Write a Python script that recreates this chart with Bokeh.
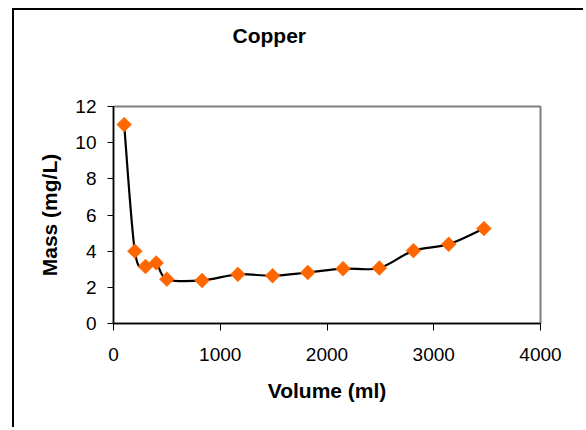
import math
from bokeh.plotting import figure
from bokeh.models import Range1d, FixedTicker, Title
from bokeh.embed import file_html
from bokeh.resources import INLINE

title_text = "Copper"
x_label = "Volume (ml)"
y_label = "Mass (mg/L)"
volume = [100, 200, 300, 400, 500, 830, 1165, 1490, 1820, 2150, 2490, 2810, 3140, 3470]
mass = [11.0, 4.0, 3.15, 3.35, 2.45, 2.38, 2.72, 2.64, 2.82, 3.03, 3.07, 4.03, 4.38, 5.25]
x_ticks = [0, 1000, 2000, 3000, 4000]
y_ticks = [0, 2, 4, 6, 8, 10, 12]

FONT = "Liberation Sans"
W, H = 571, 419

p = figure(width=W, height=H, output_backend="svg", toolbar_location=None,
           x_range=Range1d(0, 4000), y_range=Range1d(0, 12),
           min_border_left=99, min_border_right=W - 99 - 427,
           min_border_top=96, min_border_bottom=H - 96 - 217)
p.margin = (8, 0, 0, 12)
p.styles = {"border-left": "2px solid black", "border-top": "2px solid black"}

p.background_fill_color = "white"
p.border_fill_color = "white"
p.outline_line_color = "#808080"
p.outline_line_width = 2
p.xgrid.visible = False
p.ygrid.visible = False

for ax in (p.xaxis[0], p.yaxis[0]):
    ax.axis_line_color = "black"
    ax.axis_line_width = 1.5
    ax.major_tick_line_color = "black"
    ax.major_tick_in = 0
    ax.minor_tick_line_color = None
    ax.major_label_text_font = FONT
    ax.major_label_text_font_size = "19px"
    ax.major_label_text_color = "black"
    ax.axis_label_text_font = FONT
    ax.axis_label_text_font_size = "21px"
    ax.axis_label_text_font_style = "bold"
    ax.axis_label_text_color = "black"

p.xaxis.ticker = FixedTicker(ticks=x_ticks)
p.yaxis.ticker = FixedTicker(ticks=y_ticks)
p.xaxis.major_tick_out = 7
p.yaxis.major_tick_out = 6
p.xaxis.major_label_standoff = 17
p.yaxis.major_label_standoff = 11
p.xaxis.axis_label = x_label
p.yaxis.axis_label = y_label
p.xaxis.axis_label_standoff = 15
p.yaxis.axis_label_standoff = 11

# Smoothed line (cubic Bezier segments through the data points)
n = len(volume)
x0s, y0s, x1s, y1s, cx0s, cy0s, cx1s, cy1s = [], [], [], [], [], [], [], []
for i in range(n - 1):
    pa = (volume[max(i - 1, 0)], mass[max(i - 1, 0)])
    p1 = (volume[i], mass[i])
    p2 = (volume[i + 1], mass[i + 1])
    pb = (volume[min(i + 2, n - 1)], mass[min(i + 2, n - 1)])
    x0s.append(p1[0]); y0s.append(p1[1])
    x1s.append(p2[0]); y1s.append(p2[1])
    cx0s.append(p1[0] + (p2[0] - pa[0]) / 6.0)
    cy0s.append(p1[1] + (p2[1] - pa[1]) / 6.0)
    cx1s.append(p2[0] - (pb[0] - p1[0]) / 6.0)
    cy1s.append(p2[1] - (pb[1] - p1[1]) / 6.0)

p.bezier(x0=x0s, y0=y0s, x1=x1s, y1=y1s, cx0=cx0s, cy0=cy0s, cx1=cx1s, cy1=cy1s,
         line_color="black", line_width=2.2)

p.scatter(volume, mass, marker="square", size=10.5, angle=math.pi / 4,
          fill_color="#FF6600", line_color="#FF6600", line_width=0.5)

# blank spacer between the frame and the title, then the title itself
p.add_layout(Title(text=" ", standoff=30, text_font=FONT,
                   text_font_size="21px"), "above")
p.add_layout(Title(text=title_text, align="left", offset=119, standoff=10,
                   text_font=FONT, text_font_size="21px",
                   text_font_style="bold", text_color="black"), "above")

open("out.html", "w").write(file_html(p, INLINE))
